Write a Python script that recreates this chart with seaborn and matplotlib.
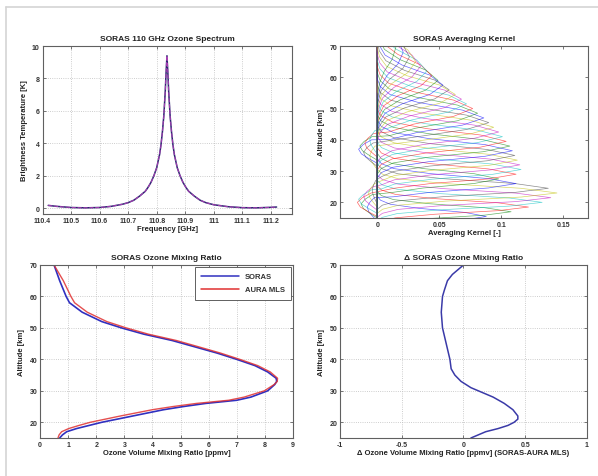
import numpy as np
import pandas as pd
import matplotlib
matplotlib.use("Agg")
import matplotlib.pyplot as plt
import seaborn as sns
from matplotlib.lines import Line2D

# ---------------- data ----------------
# Spectrum (GHz, K)
freq = [110.42, 110.45, 110.50, 110.55, 110.60, 110.64, 110.68, 110.70, 110.72, 110.74,
        110.76, 110.77, 110.78, 110.79, 110.80, 110.81, 110.815, 110.82, 110.825, 110.83,
        110.833, 110.836, 110.839, 110.842, 110.847, 110.852, 110.857, 110.862, 110.872,
        110.882, 110.892, 110.902, 110.912, 110.932, 110.952, 110.972, 111.00, 111.05,
        111.10, 111.15, 111.20, 111.22]
tb = [0.18, 0.12, 0.05, 0.03, 0.05, 0.12, 0.25, 0.35, 0.50, 0.75,
      1.05, 1.30, 1.60, 2.00, 2.50, 3.30, 3.90, 4.70, 5.70, 7.20,
      8.40, 9.40, 8.40, 7.20, 5.70, 4.70, 3.90, 3.30, 2.50,
      2.00, 1.60, 1.30, 1.05, 0.75, 0.50, 0.35, 0.22, 0.10,
      0.04, 0.03, 0.06, 0.08]

# Averaging kernels
ak_peak_alt = [15.5, 17, 18.5, 20, 21.5, 23, 24.5, 26, 27.5, 29, 30.5, 32, 33.5, 35,
               36.5, 38, 39.5, 41, 42.5, 44, 45.5, 47, 48.5, 50, 51.5, 53, 54.5, 56,
               57.5, 59, 60.5, 62, 63.5, 65, 66.5, 68, 69.5]
ak_peak_val = [0.088, 0.108, 0.122, 0.133, 0.140, 0.145, 0.138, 0.112, 0.098, 0.112,
               0.116, 0.115, 0.113, 0.111, 0.109, 0.107, 0.104, 0.101, 0.098, 0.094,
               0.090, 0.086, 0.081, 0.077, 0.072, 0.068, 0.063, 0.058, 0.053, 0.049,
               0.044, 0.040, 0.035, 0.031, 0.026, 0.021, 0.015]
ak_w_lo = [2.2, 2.2, 2.3, 2.4, 2.5, 2.6, 2.7, 2.8, 2.9, 3.0, 3.1, 3.2, 3.3, 3.4, 3.5,
           3.6, 3.7, 3.8, 4.0, 4.2, 4.4, 4.6, 4.8, 5.0, 5.2, 5.4, 5.6, 5.8, 6.0, 6.2,
           6.4, 6.6, 6.8, 7.0, 7.2, 7.4, 7.6]
ak_w_hi = [2.6, 2.6, 2.7, 2.8, 2.9, 3.0, 3.1, 3.2, 3.3, 3.4, 3.5, 3.6, 3.7, 3.8, 3.9,
           4.0, 4.1, 4.2, 4.4, 4.6, 4.8, 5.0, 5.2, 5.4, 5.6, 5.8, 6.0, 6.2, 6.4, 6.6,
           6.8, 7.0, 7.2, 7.4, 7.6, 7.8, 8.0]
ak_lobe_alt = [0, 0, 0, 0, 0, 0, 0, 18.5, 19.5, 20, 21, 22, 23, 24, 0, 0, 0, 0, 0,
               35, 36, 37, 38, 39, 40, 0, 0, 0, 0, 0, 0, 0, 0, 0, 0, 0, 0]
ak_lobe_val = [0, 0, 0, 0, 0, 0, 0, -0.008, -0.013, -0.016, -0.015, -0.011, -0.007,
               -0.004, 0, 0, 0, 0, 0, -0.006, -0.011, -0.015, -0.014, -0.010, -0.006,
               0, 0, 0, 0, 0, 0, 0, 0, 0, 0, 0, 0]
# typical kernel shape (offset in widths, fraction of peak)
ak_rel = [-2.5, -2.0, -1.5, -1.0, -0.5, 0.0, 0.5, 1.0, 1.5, 2.0, 2.5]
ak_frac = [0.0, 0.03, 0.12, 0.38, 0.80, 1.0, 0.80, 0.38, 0.12, 0.03, 0.0]
# typical negative side-lobe shape (offset in km, fraction of lobe minimum)
lobe_rel = [-4.5, -3.0, -1.5, 0.0, 1.5, 3.0]
lobe_frac = [0.0, 0.45, 0.85, 1.0, 0.75, 0.3]

# Ozone profiles
o3_alt = [15, 16, 17, 18, 19, 20, 22, 24, 25, 26, 27, 28, 30, 32, 33, 34, 36, 38, 40,
          42, 44, 46, 48, 50, 52, 55, 58, 60, 65, 70]
o3_soras = [0.70, 0.80, 0.95, 1.30, 1.75, 2.20, 3.30, 4.40, 5.10, 5.90, 7.00, 7.50,
            8.10, 8.35, 8.42, 8.40, 8.10, 7.65, 7.00, 6.30, 5.50, 4.70, 3.70, 2.90,
            2.20, 1.50, 1.05, 0.93, 0.70, 0.50]
o3_aura = [0.64, 0.68, 0.77, 1.02, 1.39, 1.79, 2.86, 4.00, 4.73, 5.57, 6.71, 7.26,
           7.98, 8.33, 8.44, 8.45, 8.19, 7.75, 7.11, 6.42, 5.64, 4.85, 3.86, 3.07,
           2.38, 1.68, 1.23, 1.10, 0.83, 0.50]

# Difference profile
d_alt = [15, 16, 17, 18, 19, 20, 21, 22, 24, 26, 28, 30, 31, 33, 35, 37, 40, 45, 50,
         55, 60, 62, 65, 67, 70]
d_vmr = [0.06, 0.12, 0.18, 0.28, 0.36, 0.41, 0.44, 0.44, 0.40, 0.33, 0.24, 0.12, 0.06,
         -0.02, -0.07, -0.10, -0.11, -0.14, -0.17, -0.18, -0.17, -0.155, -0.13, -0.09, 0.0]

# ---------------- style ----------------
sns.set_theme(style="white")
plt.rcParams["font.family"] = ["Liberation Sans", "DejaVu Sans"]
plt.rcParams["font.weight"] = "bold"

W, H = 598, 477
fig = plt.figure(figsize=(W / 100, H / 100), dpi=100)
fig.patch.set_facecolor("white")


def px_axes(l, t, r, b):
    return fig.add_axes([l / W, 1 - b / H, (r - l) / W, (b - t) / H])


ax1 = px_axes(42.5, 47, 292, 215)
ax2 = px_axes(340, 47, 588, 219)
ax3 = px_axes(40, 266, 293, 439)
ax4 = px_axes(340, 266, 587, 439)

TICK_FS = 5
LAB_FS = 5.5
TIT_FS = 6
GRID_KW = dict(color="#bdbdbd", linestyle=":", linewidth=0.6)
TXT = "#222222"


def style(ax, grid=True):
    for s in ax.spines.values():
        s.set_color("#606060")
        s.set_linewidth(0.8)
        s.set_visible(True)
    ax.tick_params(direction="in", length=2.5, width=0.6, colors="#606060",
                   labelcolor="#333333", labelsize=TICK_FS, pad=2,
                   top=True, right=True, bottom=True, left=True)
    for lab in ax.get_xticklabels() + ax.get_yticklabels():
        lab.set_fontweight("bold")
    if grid:
        ax.grid(True, **GRID_KW)
        ax.set_axisbelow(True)
    else:
        ax.grid(False)
    ax.set_facecolor("white")


def labels(ax, title, xl, yl):
    ax.set_title(title, fontsize=TIT_FS, fontweight="bold", pad=4, color=TXT)
    ax.set_xlabel(xl, fontsize=LAB_FS, fontweight="bold", labelpad=1, color=TXT)
    ax.set_ylabel(yl, fontsize=LAB_FS, fontweight="bold", labelpad=3, color=TXT)


# ---- Spectrum ----
spec = pd.DataFrame({"f": freq, "tb": tb})
sns.lineplot(data=spec, x="f", y="tb", ax=ax1, color="#2a2a70", lw=1.1,
             sort=False, estimator=None)
sns.lineplot(data=spec, x="f", y="tb", ax=ax1, color="#c040c0", lw=0.8,
             linestyle="--", sort=False, estimator=None, alpha=0.8)
ax1.set_xlim(110.4, 111.274)
ax1.set_ylim(-0.35, 10)
ax1.set_xticks([110.4, 110.5, 110.6, 110.7, 110.8, 110.9, 111.0, 111.1, 111.2])
ax1.set_xticklabels(["110.4", "110.5", "110.6", "110.7", "110.8", "110.9", "111",
                     "111.1", "111.2"])
ax1.set_yticks([0, 2, 4, 6, 8, 10])
labels(ax1, "SORAS 110 GHz Ozone Spectrum", "Frequency [GHz]",
       "Brightness Temperature [K]")
style(ax1)

# ---- Averaging kernels ----
matlab_cols = ["#0000ff", "#008000", "#ff0000", "#00bfbf", "#bf00bf", "#bfbf00", "#404040"]
rows = []
for k in range(len(ak_peak_alt)):
    pts = []
    for r, f in zip(ak_rel, ak_frac):
        w = ak_w_lo[k] if r < 0 else ak_w_hi[k]
        pts.append((ak_peak_alt[k] + r * w, f * ak_peak_val[k]))
    if ak_lobe_val[k] != 0:
        la = ak_lobe_alt[k]
        lobe = [(la + r, f * ak_lobe_val[k]) for r, f in zip(lobe_rel, lobe_frac)]
        pts = lobe + [p for p in pts if p[0] > lobe[-1][0]]
    if pts[0][0] > 15:
        pts = [(14.0, 0.0)] + pts
    if pts[-1][0] < 70:
        pts = pts + [(71.0, 0.0)]
    for i, (zv, xv) in enumerate(pts):
        rows.append({"k": k, "i": i, "x": xv, "z": zv})
akdf = pd.DataFrame(rows)
pal = [matlab_cols[k % len(matlab_cols)] for k in range(len(ak_peak_alt))]
sns.lineplot(data=akdf, x="x", y="z", hue="k", palette=pal, ax=ax2, lw=0.5,
             sort=False, estimator=None, legend=False, alpha=0.6)
ax2.set_xlim(-0.03, 0.17)
ax2.set_ylim(15, 70)
ax2.set_xticks([0, 0.05, 0.1, 0.15])
ax2.set_xticklabels(["0", "0.05", "0.1", "0.15"])
ax2.set_yticks([20, 30, 40, 50, 60, 70])
labels(ax2, "SORAS Averaging Kernel", "Averaging Kernel [-]", "Altitude [km]")
style(ax2, grid=False)

# ---- Ozone profiles ----
prof = pd.DataFrame({"alt": o3_alt, "soras": o3_soras, "aura": o3_aura})
sns.lineplot(data=prof, x="soras", y="alt", ax=ax3, color="#3030c0", lw=1.2,
             sort=False, estimator=None)
sns.lineplot(data=prof, x="aura", y="alt", ax=ax3, color="#e03030", lw=1.0,
             sort=False, estimator=None, alpha=0.85)
ax3.set_xlim(0, 9)
ax3.set_ylim(15, 70)
ax3.set_xticks(range(10))
ax3.set_yticks([20, 30, 40, 50, 60, 70])
labels(ax3, "SORAS Ozone Mixing Ratio", "Ozone Volume Mixing Ratio [ppmv]",
       "Altitude [km]")
style(ax3)
handles = [Line2D([], [], color="#3030c0", lw=1.1), Line2D([], [], color="#e03030", lw=1.1)]
leg = ax3.legend(handles, ["SORAS", "AURA MLS"], loc="upper right", fontsize=5.5,
                 frameon=True, fancybox=False, edgecolor="#606060", framealpha=1,
                 borderaxespad=0.25, handlelength=5.0, borderpad=0.8,
                 labelspacing=0.75, handletextpad=0.8)
leg.get_frame().set_linewidth(0.7)
for t in leg.get_texts():
    t.set_fontweight("bold")
    t.set_color("#333333")

# ---- Difference ----
dd = pd.DataFrame({"alt": d_alt, "d": d_vmr})
sns.lineplot(data=dd, x="d", y="alt", ax=ax4, color="#3a3aa8", lw=1.1, sort=False,
             estimator=None)
ax4.set_xlim(-1, 1)
ax4.set_ylim(15, 70)
ax4.set_xticks([-1, -0.5, 0, 0.5, 1])
ax4.set_xticklabels(["-1", "-0.5", "0", "0.5", "1"])
ax4.set_yticks([20, 30, 40, 50, 60, 70])
labels(ax4, "Δ SORAS Ozone Mixing Ratio",
       "Δ Ozone Volume Mixing Ratio [ppmv] (SORAS-AURA MLS)", "Altitude [km]")
style(ax4)

# figure frame (top and left light border)
fig.add_artist(Line2D([6 / W, 1], [1 - 8 / H, 1 - 8 / H], color="#d4d4d4", lw=1.2,
                      transform=fig.transFigure))
fig.add_artist(Line2D([6 / W, 6 / W], [0, 1 - 8 / H], color="#d4d4d4", lw=1.2,
                      transform=fig.transFigure))

fig.savefig("out.png", dpi=100, facecolor="white")
